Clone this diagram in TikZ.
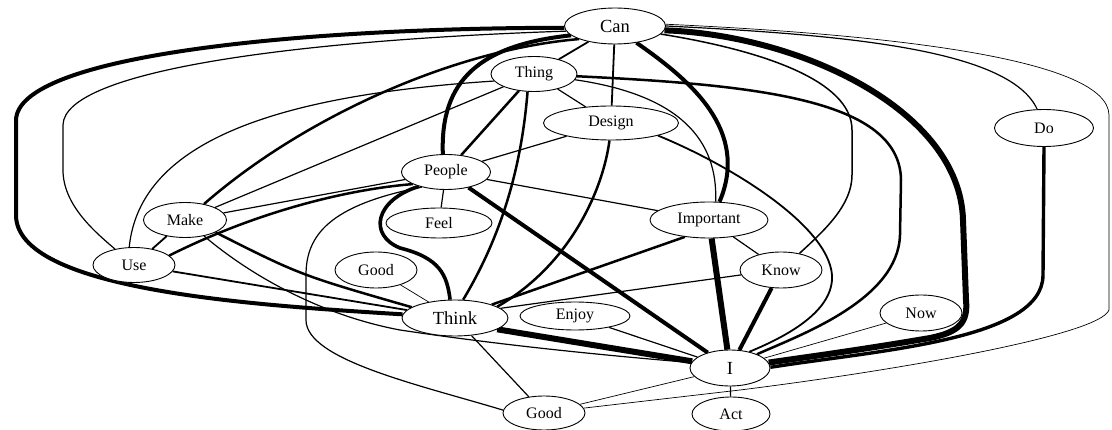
\documentclass[tikz,border=0pt]{standalone}
\usepackage{fontspec}
\setmainfont{Liberation Serif}
\usetikzlibrary{shapes.geometric}
\pgfdeclarelayer{bg}
\pgfsetlayers{bg,main}
\begin{document}
\begin{tikzpicture}[x=1pt,y=-1pt,
  nd/.style={ellipse, draw, line width=0.9pt, fill=white, inner sep=0pt, font=\fontsize{16}{17}\selectfont},
  big/.style={font=\fontsize{18.5}{19}\selectfont},
  e0/.style={line width=0.7pt},
  e1/.style={line width=1.2pt},
  e2/.style={line width=1.8pt},
  e3/.style={line width=2.5pt},
  e4/.style={line width=4pt},
  e5/.style={line width=6pt},
  every path/.append style={line join=round}]
\useasboundingbox (0,0) rectangle (1112,430);

\node[nd, big, minimum width=101pt, minimum height=36pt] (can) at (615,26) {Can};
\node[nd, minimum width=86pt, minimum height=35pt] (thing) at (534,74) {Thing};
\node[nd, minimum width=135pt, minimum height=34pt] (design) at (611,123) {Design};
\node[nd, minimum width=99pt, minimum height=37pt] (do) at (1044,128) {Do};
\node[nd, minimum width=89pt, minimum height=35pt] (people) at (446,172) {People};
\node[nd, minimum width=83pt, minimum height=35pt] (make) at (185,220) {Make};
\node[nd, minimum width=106pt, minimum height=30pt] (feel) at (439,223) {Feel};
\node[nd, minimum width=118pt, minimum height=36pt] (important) at (709,220) {Important};
\node[nd, minimum width=82pt, minimum height=35pt] (use) at (134,265) {Use};
\node[nd, minimum width=82pt, minimum height=36pt] (goodA) at (376,270) {Good};
\node[nd, big, minimum width=106pt, minimum height=36pt] (think) at (455,318) {Think};
\node[nd, minimum width=110pt, minimum height=28pt] (enjoy) at (575,316) {Enjoy};
\node[nd, minimum width=82pt, minimum height=36pt] (know) at (781,270) {Know};
\node[nd, minimum width=82pt, minimum height=36pt] (now) at (921,313) {Now};
\node[nd, big, minimum width=80pt, minimum height=36pt] (i) at (730,368) {I};
\node[nd, minimum width=82pt, minimum height=34pt] (goodB) at (544,413) {Good};
\node[nd, minimum width=78pt, minimum height=34pt] (act) at (731,414) {Act};

\begin{pgfonlayer}{bg}
% very thick
\draw[e5] (can.-5) .. controls (800,35) and (960,110) .. (963,220) -- (966,300)
  .. controls (968,322) and (960,332) .. (930,338) .. controls (860,350) and (800,358) .. (i.8);
\draw[e5] (think.-15) -- (i.170);
\draw[e5] (important) -- (i);
% thick
\draw[e4] (can.182) .. controls (300,28) and (18,55) .. (16,120) -- (16,215)
  .. controls (16,290) and (250,305) .. (think.176);
\draw[e4] (can.192) .. controls (480,45) and (440,80) .. (people.100);
\draw[e4] (can.-38) .. controls (690,80) and (750,130) .. (important.60);
\draw[e4] (people) -- (i);
\draw[e4] (know) -- (i);
\draw[line width=3.6pt] (people.208) .. controls (375,200) and (368,235) .. (400,248)
  .. controls (440,258) and (447,275) .. (think.105);
\draw[line width=3.4pt] (do.270) -- (1043,275) .. controls (1043,340) and (880,350) .. (i.1);
% medium thick
\draw[e3] (thing.-3) .. controls (760,85) and (900,100) .. (901,180) -- (900,235)
  .. controls (898,300) and (800,335) .. (i.27);
\draw[e3] (think.20) -- (important.215);
\draw[e3] (make.-22) .. controls (300,275) .. (think.166);
\draw[e3] (can.200) .. controls (450,50) and (300,120) .. (make.40);
\draw[e3] (design.265) .. controls (603,190) and (570,265) .. (think.15);
\draw[e3] (thing.250) .. controls (522,160) and (505,230) .. (think.66);
\draw[e3] (thing) -- (people);
\draw[e3] (use.15) .. controls (250,215) and (340,190) .. (people.200);
% medium
\draw[e2] (can) -- (thing);
\draw[e2] (can) -- (design);
\draw[e2] (design.-15) .. controls (730,165) and (828,225) .. (832,275)
  .. controls (834,310) and (790,335) .. (i.40);
\draw[e2] (make) -- (use);
\draw[e2] (use) -- (think);
\draw[e1] (thing) -- (make);
\draw[line width=1.5pt] (can.-10) .. controls (760,50) and (852,80) .. (852,130) -- (852,175)
  .. controls (852,205) and (825,230) .. (know.42);
% thin
\draw[e1] (can.186) .. controls (300,40) and (64,70) .. (63,125) -- (63,170)
  .. controls (63,205) and (95,232) .. (use.140);
\draw[e1] (can.0) .. controls (850,35) and (1010,50) .. (do.110);
\draw[e1] (thing.190) .. controls (280,95) and (140,140) .. (use.105);
\draw[e1] (thing) -- (design);
\draw[e1] (thing.-8) .. controls (680,95) and (718,140) .. (important.70);
\draw[e1] (people) -- (design);
\draw[e1] (people) -- (important);
\draw[e1] (people) -- (make);
\draw[e1] (people) -- (feel);
\draw[e1] (people.212) .. controls (330,205) and (306,235) .. (306,275) -- (306,320)
  .. controls (306,360) and (420,385) .. (goodB.176);
\draw[e1] (make.-40) .. controls (250,275) and (320,315) .. (400,330)
  .. controls (500,345) and (600,355) .. (i.172);
\draw[e1] (important) -- (know);
\draw[e1] (think.12) -- (know.187);
\draw[e1] (think) -- (goodB);
\draw[e1] (enjoy) -- (i);
\draw[e1] (i) -- (act);
% very thin
\draw[e0] (can.2) .. controls (900,35) and (1108,60) .. (1109,115) -- (1109,310)
  .. controls (1100,335) and (900,370) .. (740,390) -- (goodB.7);
\draw[e0] (goodA) -- (think);
\draw[e0] (now) -- (i);
\draw[e0] (i) -- (goodB);
\end{pgfonlayer}
\end{tikzpicture}
\end{document}
